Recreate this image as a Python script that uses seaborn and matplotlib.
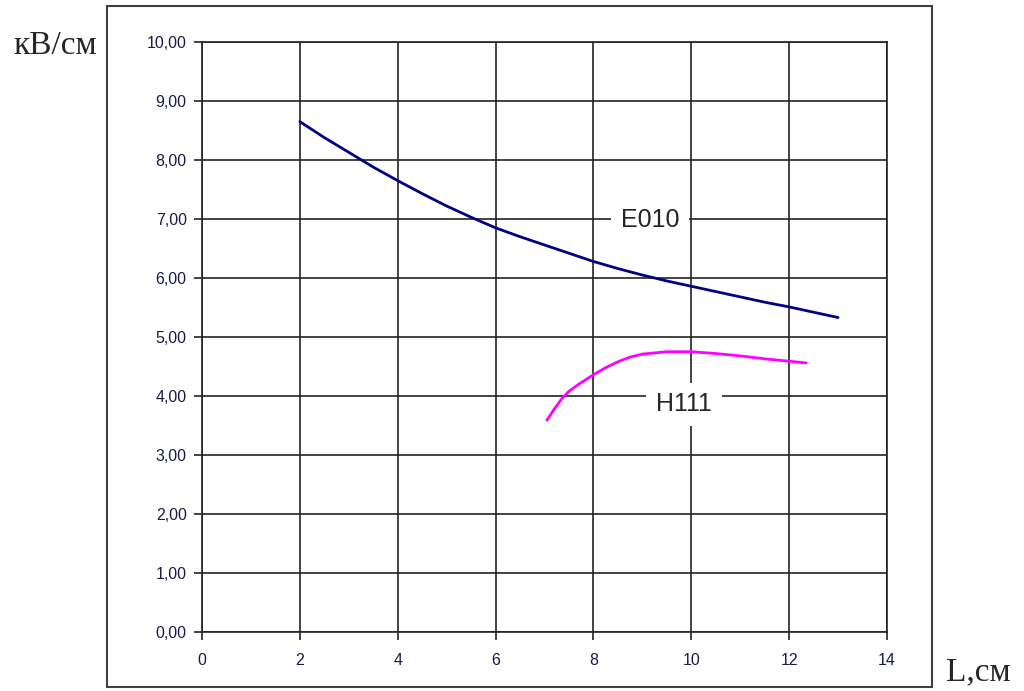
import numpy as np
import pandas as pd
import matplotlib
matplotlib.use('Agg')
import matplotlib.pyplot as plt
import matplotlib.patches as patches
import seaborn as sns

# Данные
L_e010 = [2, 2.5, 3, 3.5, 4, 4.5, 5, 5.5, 6, 6.5, 7, 7.5, 8, 8.5, 9, 9.5, 10, 10.5, 11, 11.5, 12, 12.5, 13]
E_e010 = [8.65, 8.38, 8.13, 7.88, 7.65, 7.43, 7.22, 7.03, 6.85, 6.70, 6.56, 6.42, 6.28, 6.16, 6.05, 5.95,
          5.86, 5.77, 5.68, 5.59, 5.51, 5.42, 5.33]

L_h111 = [7.05, 7.2, 7.35, 7.5, 7.7, 8.0, 8.25, 8.5, 8.75, 9.0, 9.5, 10.0, 10.5, 11.0, 11.5, 12.0, 12.35]
E_h111 = [3.59, 3.78, 3.95, 4.08, 4.2, 4.36, 4.48, 4.58, 4.66, 4.71, 4.75, 4.75, 4.72, 4.68, 4.63, 4.59, 4.56]

x_ticks = [0, 2, 4, 6, 8, 10, 12, 14]
y_ticks = [0, 1, 2, 3, 4, 5, 6, 7, 8, 9, 10]

df_e = pd.DataFrame({'L': L_e010, 'E': E_e010})
df_h = pd.DataFrame({'L': L_h111, 'E': E_h111})

sns.set_theme(style="white")
plt.rcParams['font.family'] = ['Liberation Sans', 'DejaVu Sans']

fig = plt.figure(figsize=(10.24, 6.91), dpi=100)
ax = fig.add_axes([202 / 1024, 1 - 632 / 691, 685 / 1024, 590 / 691])

# внешняя рамка
fig.patches.append(patches.Rectangle((107 / 1024, 1 - 687 / 691), 825 / 1024, 681 / 691,
                                     transform=fig.transFigure, fill=False,
                                     edgecolor='#404040', linewidth=1.5))

sns.lineplot(data=df_e, x='L', y='E', ax=ax, color='#000080', linewidth=2)
sns.lineplot(data=df_h, x='L', y='E', ax=ax, color='#ff00ff', linewidth=2)

ax.set_xlim(0, 14)
ax.set_ylim(0, 10)
ax.set_xticks(x_ticks)
ax.set_yticks(y_ticks)
ax.set_xticklabels([str(v) for v in x_ticks])
ax.set_yticklabels([f"{v:.2f}".replace('.', ',') for v in y_ticks])
ax.grid(True, color='#222222', linewidth=1.2)
ax.set_axisbelow(True)
ax.tick_params(axis='both', direction='out', length=6, width=1.2, color='#222222',
               labelsize=11.5, labelcolor='#1a1a4a', left=True, bottom=True, pad=5)
ax.tick_params(axis='x', pad=9)
for s in ax.spines.values():
    s.set_color('#222222')
    s.set_linewidth(1.2)
ax.set_xlabel('')
ax.set_ylabel('')

ax.text(9.16, 6.98, 'E010', fontsize=18, ha='center', va='center',
        bbox=dict(facecolor='white', edgecolor='none', pad=7), zorder=3)
ax.text(9.85, 3.86, 'H111', fontsize=18, ha='center', va='center',
        bbox=dict(facecolor='white', edgecolor='none', pad=7), zorder=3)

fig.text(13 / 1024, 1 - 46 / 691, 'кВ/см', fontsize=24, family=['Liberation Serif', 'DejaVu Serif'],
         ha='left', va='center')
fig.text(946 / 1024, 1 - 672 / 691, 'L,см', fontsize=24, family=['Liberation Serif', 'DejaVu Serif'],
         ha='left', va='center')

fig.savefig('out.png', dpi=100)
